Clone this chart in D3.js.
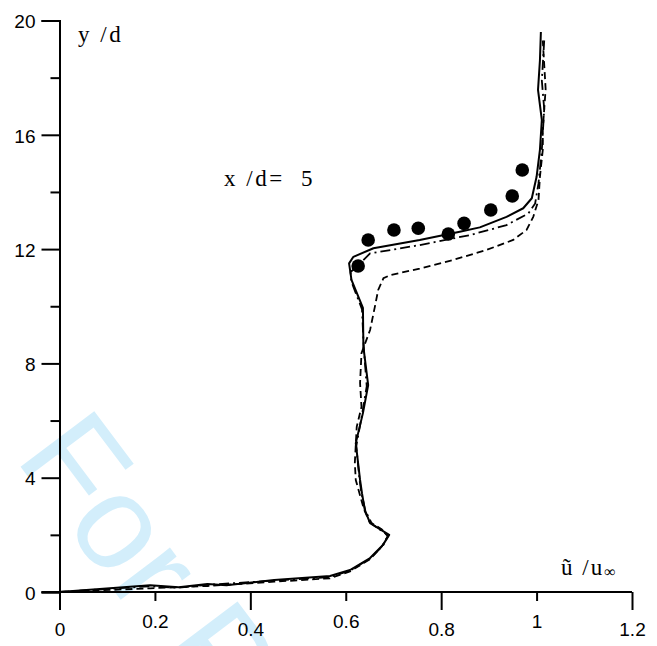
<!DOCTYPE html>
<html>
<head>
<meta charset="utf-8">
<script src="https://cdn.jsdelivr.net/npm/d3@7"></script>
<style>
  html, body { margin: 0; padding: 0; background: #fff; }
  svg { display: block; }
</style>
</head>
<body>
<svg id="chart" width="657" height="646"></svg>
<script>
// ---------- data ----------
const xTickValues = [0, 0.2, 0.4, 0.6, 0.8, 1, 1.2];
const xTickLabels = ["0", "0.2", "0.4", "0.6", "0.8", "1", "1.2"];
const yMajorTicks = [0, 4, 8, 12, 16, 20];
const yMinorTicks = [2, 6, 10, 14, 18];

// [u/u_inf, y/d]
const solidLine = [
  [0,0],[0.19,0.24],[0.25,0.17],[0.31,0.28],[0.35,0.24],[0.45,0.42],[0.567,0.56],
  [0.609,0.77],[0.651,1.19],[0.678,1.65],[0.691,2.0],[0.651,2.41],[0.640,2.87],
  [0.634,3.46],[0.630,3.92],[0.621,5.21],[0.636,6.26],[0.647,7.24],[0.637,8.58],
  [0.636,9.94],[0.612,10.92],[0.607,11.50],[0.616,11.73],[0.658,12.03],[0.755,12.32],
  [0.839,12.61],[0.881,12.76],[0.937,13.13],[0.972,13.43],[0.990,13.78],[1.000,14.53],
  [1.007,15.47],[1.011,16.52],[1.003,17.57],[1.007,18.6],[1.009,19.6]
];
const dashedLine = [
  [0,0],[0.19,0.13],[0.31,0.21],[0.45,0.36],[0.567,0.48],[0.609,0.72],[0.651,1.15],
  [0.676,1.6],[0.688,1.95],[0.675,2.2],[0.650,2.45],[0.638,2.9],[0.628,3.5],
  [0.621,3.92],[0.619,4.51],[0.623,5.78],[0.633,6.48],[0.630,7.31],[0.633,8.36],
  [0.651,9.17],[0.661,9.98],[0.668,10.57],[0.679,10.98],[0.693,11.09],[0.755,11.32],
  [0.825,11.62],[0.895,11.97],[0.951,12.32],[0.979,12.67],[0.993,13.13],[1.004,13.72],
  [1.007,14.53],[1.013,15.47],[1.013,16.2],[1.019,17.6],[1.013,19.3]
];
const dashDotLine = [
  [0,0],[0.19,0.2],[0.25,0.15],[0.31,0.25],[0.45,0.4],[0.567,0.52],[0.609,0.75],
  [0.651,1.17],[0.678,1.62],[0.689,1.98],[0.655,2.38],[0.641,2.85],[0.633,3.45],
  [0.629,3.92],[0.622,5.1],[0.634,6.2],[0.644,7.2],[0.638,8.5],[0.634,9.9],
  [0.612,10.85],[0.610,11.2],[0.623,11.38],[0.651,11.85],[0.755,12.14],[0.860,12.49],
  [0.937,12.84],[0.983,13.25],[0.997,13.60],[1.004,14.30],[1.011,15.47],[1.016,16.9],
  [1.011,17.9],[1.016,19.3]
];
const measuredPoints = [
  [0.626,11.41],[0.647,12.32],[0.701,12.67],[0.752,12.73],[0.815,12.53],
  [0.848,12.90],[0.904,13.37],[0.949,13.86],[0.970,14.77]
];

// ---------- layout ----------
const svg = d3.select("#chart");
const x = d3.scaleLinear().domain([0, 1.2]).range([59.5, 632]);
const y = d3.scaleLinear().domain([0, 20]).range([592, 20.5]);
const serif = "'Liberation Serif', 'Times New Roman', serif";
const sans = "'Liberation Sans', Arial, sans-serif";

// watermark
svg.append("text")
  .attr("transform", "translate(14,458) rotate(53)")
  .attr("font-family", sans)
  .attr("font-size", 134)
  .attr("fill", "#d3eefb")
  .text("For Peer Review");

// lines
const line = d3.line().x(d => x(d[0])).y(d => y(d[1]));
svg.append("path").datum(dashedLine).attr("d", line)
  .attr("fill", "none").attr("stroke", "#000").attr("stroke-width", 1.8)
  .attr("stroke-dasharray", "7,4");
svg.append("path").datum(dashDotLine).attr("d", line)
  .attr("fill", "none").attr("stroke", "#000").attr("stroke-width", 1.8)
  .attr("stroke-dasharray", "10,4,2,4");
svg.append("path").datum(solidLine).attr("d", line)
  .attr("fill", "none").attr("stroke", "#000").attr("stroke-width", 2)
  .attr("stroke-linejoin", "round");

// dots
svg.append("g").selectAll("circle").data(measuredPoints).join("circle")
  .attr("cx", d => x(d[0])).attr("cy", d => y(d[1])).attr("r", 6.8)
  .attr("fill", "#000");

// y axis
const yAxis = svg.append("g").attr("transform", `translate(${x(0)},0)`);
yAxis.call(d3.axisLeft(y).tickValues(yMajorTicks).tickSize(18).tickPadding(6)
  .tickFormat(d3.format("d")));
yAxis.append("g").call(d3.axisLeft(y).tickValues(yMinorTicks).tickSize(9).tickFormat(""))
  .select(".domain").remove();
yAxis.selectAll(".domain").attr("stroke-width", 2).attr("stroke", "#000");
yAxis.selectAll(".tick line").attr("stroke-width", 2).attr("stroke", "#000");
yAxis.selectAll(".tick text").attr("font-family", sans).attr("font-size", 19)
  .attr("fill", "#000").attr("dy", "0.38em");

// x axis
const xAxis = svg.append("g").attr("transform", `translate(0,${y(0)})`);
xAxis.call(d3.axisBottom(x).tickValues(xTickValues)
  .tickSizeOuter(0)
  .tickFormat((d, i) => xTickLabels[i]));
xAxis.select(".domain").attr("stroke-width", 2).attr("stroke", "#000")
  .attr("d", `M${x(0) - 18},0H${x(1.2)}`);
xAxis.selectAll(".tick line").attr("stroke-width", 2).attr("stroke", "#000")
  .attr("y2", (d, i) => i % 2 === 0 ? 18 : 9);
xAxis.selectAll(".tick text").attr("font-family", sans).attr("font-size", 19)
  .attr("fill", "#000").attr("dy", null)
  .attr("y", (d, i) => i % 2 === 0 ? 44 : 36);

// labels
svg.append("text").attr("x", 78).attr("y", 42)
  .attr("font-family", serif).attr("font-size", 23).attr("letter-spacing", 2.5)
  .text("y /d");

const xd = svg.append("text").attr("x", 224).attr("y", 186)
  .attr("font-family", serif).attr("font-size", 23).attr("letter-spacing", 2.5);
xd.append("tspan").text("x /d=");
xd.append("tspan").attr("x", 301).text("5");

const ul = svg.append("text").attr("x", 561).attr("y", 575)
  .attr("font-family", serif).attr("font-size", 23).attr("letter-spacing", 2);
ul.append("tspan").text("ũ /u");
ul.append("tspan").attr("font-size", 16).attr("dy", 2).attr("letter-spacing", 0).text("∞");
</script>
</body>
</html>
